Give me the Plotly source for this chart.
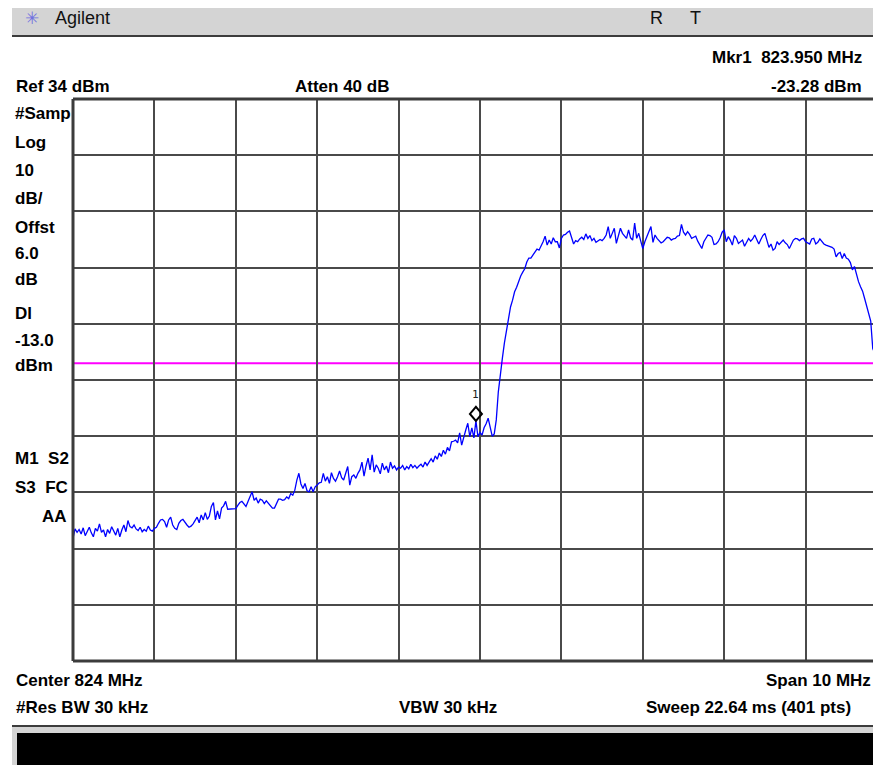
import plotly.graph_objects as go

# ---------------- instrument settings / data ----------------
CENTER_MHZ = 824.0
SPAN_MHZ = 10.0
N_POINTS = 401
REF_DBM = 34.0
DB_PER_DIV = 10.0
N_DIV = 10
DISPLAY_LINE_DBM = -13.0
MKR_FREQ_MHZ = 823.950
MKR_DBM = -23.28

amplitude_dbm = [
    -44.2, -42.5, -43.1, -42.6, -43.4, -42.3, -43.7, -42.8, -42.2, -43.2,
    -43.9, -42.4, -42.9, -41.6, -43.1, -42.7, -43.9, -42.6, -43.3, -42.1,
    -43.0, -43.6, -42.4, -43.9, -42.7, -41.8, -43.0, -41.0, -42.1, -42.3,
    -41.8, -42.5, -42.8, -42.2, -43.0, -42.6, -42.9, -42.0, -42.7, -42.9,
    -42.4, -42.2, -41.5, -40.9, -40.8, -41.2, -42.2, -40.9, -40.4, -41.8,
    -42.4, -42.6, -41.5, -41.0, -40.8, -41.4, -41.8, -42.2, -42.0, -41.6,
    -41.1, -40.4, -41.4, -40.0, -40.9, -39.6, -40.8, -40.2, -38.5, -37.8,
    -40.9, -39.3, -40.7, -38.8, -38.4, -37.6, -39.0, -39.0, -39.0, -39.0,
    -38.9, -38.3, -37.8, -37.6, -38.0, -38.5, -37.6, -36.8, -35.9, -37.4,
    -37.0, -37.9, -37.2, -37.4, -38.0, -37.5, -37.9, -38.4, -38.8, -38.8,
    -37.9, -37.2, -37.2, -37.4, -37.3, -36.8, -37.1, -36.2, -36.5, -35.6,
    -33.8, -32.6, -34.5, -35.3, -34.4, -35.7, -35.9, -35.0, -35.9, -35.0,
    -34.7, -34.3, -34.2, -32.6, -34.0, -33.2, -34.4, -32.5, -33.5, -34.0,
    -33.2, -32.2, -33.4, -33.8, -32.6, -31.4, -34.7, -33.2, -32.9, -33.5,
    -32.6, -32.0, -30.6, -33.1, -31.3, -29.9, -32.0, -29.3, -32.4, -31.1,
    -31.7, -32.7, -30.8, -32.0, -31.3, -32.5, -30.6, -31.7, -31.3, -32.0,
    -31.5, -31.7, -31.2, -32.0, -31.4, -31.8, -31.0, -31.6, -31.2, -31.7,
    -31.3, -31.0, -31.5, -30.6, -31.2, -30.5, -30.0, -30.6, -29.5, -30.1,
    -29.0, -29.6, -28.5, -29.2, -28.0, -28.6, -27.0, -26.9, -26.7, -27.2,
    -25.4, -27.6, -26.0, -24.9, -23.7, -26.1, -24.5, -26.3, -23.28, -26.1,
    -25.3, -25.8, -24.5, -23.8, -22.8, -24.7, -26.0, -25.6, -23.1, -18.1,
    -14.6, -12.1, -9.4, -7.1, -5.0, -3.0, -1.8, -0.3, 0.5, 1.6,
    2.5, 3.2, 3.8, 5.0, 5.7, 5.7, 6.2, 6.6, 7.3, 7.1,
    7.8, 8.6, 9.6, 8.0, 8.9, 8.2, 9.3, 8.6, 8.6, 7.5,
    9.2, 9.8, 9.9, 10.3, 10.5, 9.2, 8.2, 8.8, 8.6, 9.1,
    9.4, 9.0, 10.0, 9.2, 9.7, 8.8, 9.2, 8.5, 8.7, 9.0,
    8.8, 9.2, 9.8, 11.3, 9.2, 10.1, 11.0, 8.3, 9.8, 11.0,
    10.1, 9.7, 9.2, 10.7, 9.3, 8.9, 11.9, 9.2, 10.1, 8.7,
    7.4, 8.6, 9.5, 10.4, 11.3, 8.5, 9.8, 9.2, 8.8, 8.4,
    8.6, 9.0, 9.4, 9.3, 8.9, 9.1, 9.2, 9.6, 9.7, 11.7,
    10.3, 9.8, 10.4, 9.9, 9.2, 9.4, 9.6, 8.7, 8.0, 7.4,
    8.6, 9.1, 9.8, 9.7, 9.4, 8.1, 8.2, 8.6, 9.3, 10.3,
    10.7, 8.6, 9.5, 8.9, 8.0, 9.7, 9.2, 8.3, 8.7, 8.9,
    7.8, 8.5, 9.2, 8.7, 9.1, 9.8, 9.1, 8.2, 9.0, 9.7,
    10.1, 8.6, 7.6, 8.2, 7.1, 7.4, 8.6, 8.1, 8.5, 8.9,
    8.4, 8.1, 7.4, 8.3, 8.9, 9.2, 9.1, 8.8, 9.1, 9.2,
    8.6, 8.4, 8.2, 9.1, 9.2, 8.2, 8.5, 9.1, 8.6, 8.2,
    8.0, 7.9, 7.7, 7.6, 7.3, 5.9, 6.5, 6.7, 5.6, 6.5,
    5.7, 5.5, 4.9, 3.6, 4.2, 2.7, 1.5, 0.6, -0.2, -1.5,
    -2.8, -4.2, -5.5, -10.4, -11.3, -12.8, -14.8, -18.1, -22.0, -25.5,
    -28.0,
]

left_labels = ["#Samp", "Log", "10", "dB/", "Offst", "6.0", "dB", "Dl", "-13.0", "dBm"]
status_labels = ["M1  S2", "S3  FC", "AA"]

# sweep frequencies from the instrument settings (start + k*step)
f_start = CENTER_MHZ - SPAN_MHZ / 2
f_step = SPAN_MHZ / (N_POINTS - 1)
freq_mhz = [f_start + k * f_step for k in range(N_POINTS)]

# ---------------- layout geometry ----------------
PAGE_OFF = 8               # default body margin of the html page
VIEW_W, VIEW_H = 881, 765  # page size
W, H = VIEW_W - PAGE_OFF, VIEW_H - PAGE_OFF
PLOT_L, PLOT_T, PLOT_B = 73, 99, 661   # graticule edges in page pixels
L = PLOT_L - PAGE_OFF
T = PLOT_T - PAGE_OFF
B = H - (PLOT_B - PAGE_OFF)
R = 0
PW = W - L - R
PH = H - T - B
DIV_PX = 81.4  # full graticule is 10 divisions wide, cropped at the right
x_visible = SPAN_MHZ * PW / (N_DIV * DIV_PX)


def xp(px):
    return (px - PAGE_OFF - L) / PW


def yp(py):
    return (H - B - (py - PAGE_OFF)) / PH


FONT_B = "Liberation Sans Narrow, Arial Narrow, Liberation Sans, Arial"
GRID = "#4a4a4a"

fig = go.Figure()
fig.add_trace(go.Scatter(x=freq_mhz, y=amplitude_dbm, mode="lines",
                         line=dict(color="#0000ff", width=1.3),
                         hoverinfo="skip", showlegend=False))

shapes = []
# header bar
shapes.append(dict(type="rect", xref="paper", yref="paper", x0=xp(12), x1=xp(890),
                   y0=yp(35), y1=yp(-10), fillcolor="#d4d4d4", line=dict(width=0), layer="below"))
shapes.append(dict(type="line", xref="paper", yref="paper", x0=xp(12), x1=xp(890),
                   y0=yp(36), y1=yp(36), line=dict(color="#3c3c3c", width=2)))
# footer
shapes.append(dict(type="rect", xref="paper", yref="paper", x0=xp(12), x1=xp(890),
                   y0=yp(775), y1=yp(727), fillcolor="#d4d4d4", line=dict(width=0), layer="below"))
shapes.append(dict(type="line", xref="paper", yref="paper", x0=xp(12), x1=xp(890),
                   y0=yp(726), y1=yp(726), line=dict(color="#3c3c3c", width=2)))
shapes.append(dict(type="rect", xref="paper", yref="paper", x0=xp(17), x1=xp(878),
                   y0=yp(775), y1=yp(733), fillcolor="#000000", line=dict(width=0)))
# display line
shapes.append(dict(type="line", xref="paper", yref="y", x0=0, x1=1,
                   y0=DISPLAY_LINE_DBM, y1=DISPLAY_LINE_DBM,
                   line=dict(color="#ff00ff", width=2), layer="below"))
# graticule border
shapes.append(dict(type="line", xref="paper", yref="paper", x0=0, x1=0, y0=0, y1=1,
                   line=dict(color="#3c3c3c", width=3)))
shapes.append(dict(type="line", xref="paper", yref="paper", x0=0, x1=1, y0=1, y1=1,
                   line=dict(color="#3c3c3c", width=3)))
shapes.append(dict(type="line", xref="paper", yref="paper", x0=0, x1=1, y0=0, y1=0,
                   line=dict(color="#3c3c3c", width=3)))
# marker diamond, anchored at the marker reading and drawn just above it
shapes.append(dict(type="path", xref="x", yref="y",
                   xsizemode="pixel", ysizemode="pixel",
                   xanchor=MKR_FREQ_MHZ, yanchor=MKR_DBM,
                   path="M 0 0 L 6 7 L 0 14 L -6 7 Z",
                   line=dict(color="black", width=2), fillcolor="rgba(0,0,0,0)"))

ann = []


def txt(s, x, y, anchor="left", size=17, bold=True, color="#000000", family=FONT_B):
    ann.append(dict(text=s, xref="paper", yref="paper", x=xp(x), y=yp(y),
                    xanchor=anchor, yanchor="middle", showarrow=False,
                    font=dict(family=family, size=size, color=color,
                              weight="bold" if bold else "normal")))


txt("✳", 32, 18, anchor="center", size=17, bold=False, color="#7070e0", family="DejaVu Sans")
txt("Agilent", 53, 18, size=18, bold=False, color="#111111", family="Liberation Sans")
txt("R", 648, 18, size=18, bold=False, color="#111111", family="Liberation Sans")
txt("T", 688, 18, size=18, bold=False, color="#111111", family="Liberation Sans")
txt(f"Mkr1  {MKR_FREQ_MHZ:.3f} MHz", 864, 58, anchor="right")
txt(f"Ref {REF_DBM:.0f} dBm", 14, 86)
txt("Atten 40 dB", 293, 86)
txt(f"{MKR_DBM:.2f} dBm", 864, 86, anchor="right")
for lab, yy in zip(left_labels, [113, 142, 170, 198, 227, 253, 279, 313, 340, 365]):
    txt(lab, 13, yy)
txt(status_labels[0], 13, 459)
txt(status_labels[1], 13, 487)
txt(status_labels[2], 69, 516, anchor="right")
txt(f"Center {CENTER_MHZ:.0f} MHz", 14, 680)
txt(f"Span {SPAN_MHZ:.0f} MHz", 873, 680, anchor="right")
txt("#Res BW 30 kHz", 14, 708)
txt("VBW 30 kHz", 448, 708, anchor="center")
txt(f"Sweep 22.64 ms ({N_POINTS} pts)", 853, 708, anchor="right")

# marker number
ann.append(dict(text="1", x=MKR_FREQ_MHZ, y=MKR_DBM, xref="x", yref="y",
                yshift=26, showarrow=False,
                font=dict(family="DejaVu Sans Mono", size=11, color="#222222")))

fig.update_layout(
    width=W, height=H,
    margin=dict(l=L, r=R, t=T, b=B, pad=0),
    paper_bgcolor="white", plot_bgcolor="white",
    shapes=shapes, annotations=ann, showlegend=False, hovermode=False,
    xaxis=dict(range=[f_start, f_start + x_visible], tick0=f_start, dtick=SPAN_MHZ / N_DIV,
               showgrid=True, gridcolor=GRID, gridwidth=2, zeroline=False,
               showticklabels=False, ticks="", showline=False, fixedrange=True),
    yaxis=dict(range=[REF_DBM - N_DIV * DB_PER_DIV, REF_DBM],
               tick0=REF_DBM - N_DIV * DB_PER_DIV, dtick=DB_PER_DIV,
               showgrid=True, gridcolor=GRID, gridwidth=2, zeroline=False,
               showticklabels=False, ticks="", showline=False, fixedrange=True),
)

fig.write_html("out.html", config={"displayModeBar": False})
